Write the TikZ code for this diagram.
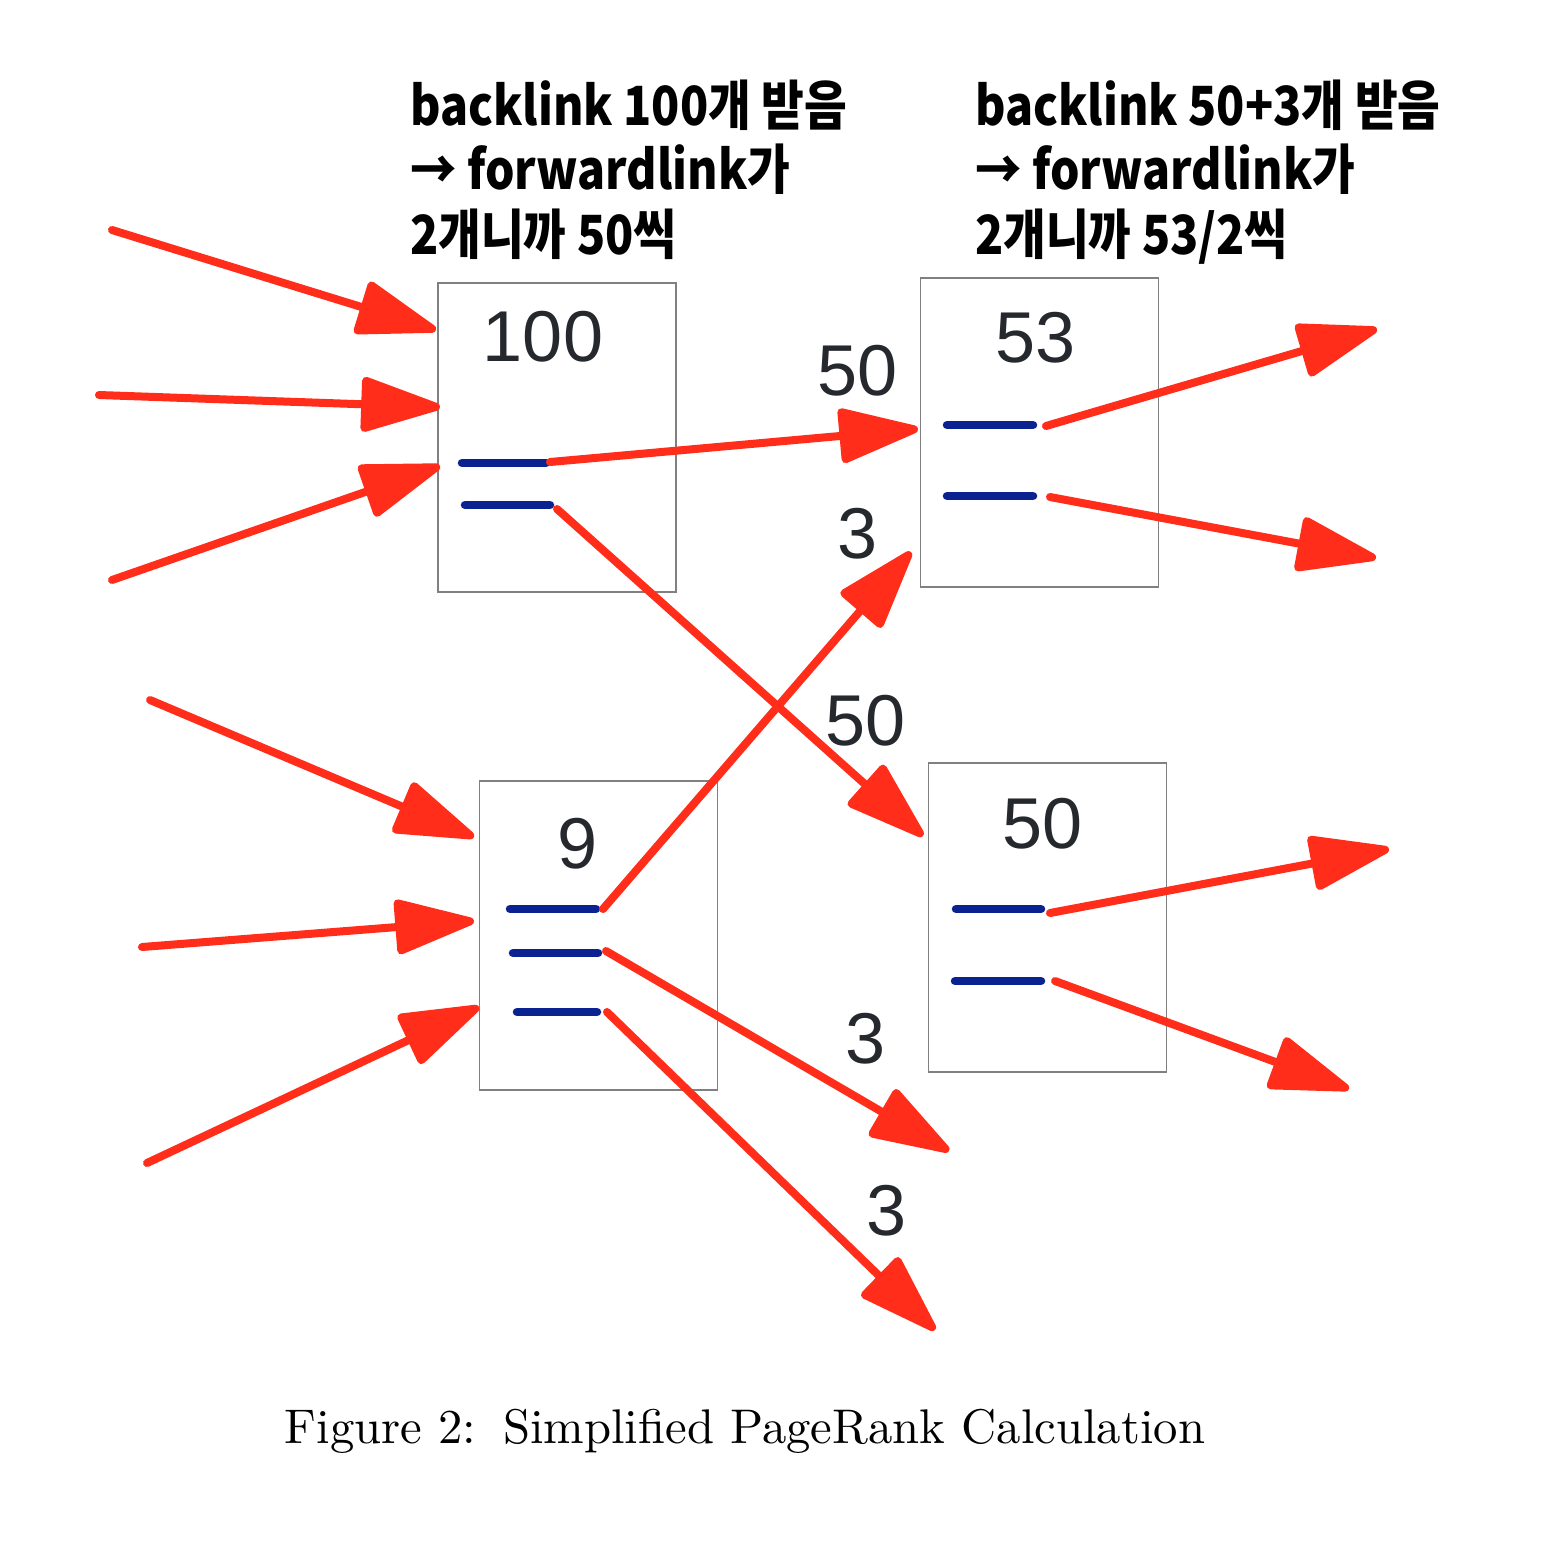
\documentclass[tikz,border=0pt]{standalone}
\usepackage{fontspec}
\newfontfamily\krfont{Noto Sans CJK KR}[FakeStretch=0.86]
\newfontfamily\numfont{Liberation Sans}
\usetikzlibrary{arrows.meta}
\definecolor{arrred}{HTML}{FF2D19}
\definecolor{linkblue}{HTML}{0A2391}
\definecolor{boxgray}{HTML}{808080}
\definecolor{numgray}{HTML}{25282D}
\tikzset{
  pagebox/.style={draw=boxgray, line width=1.6pt, minimum width=238pt, minimum height=309pt, inner sep=0pt},
  linkbar/.style={draw=linkblue, line width=8.5pt, line cap=round},
  flow/.style={draw=arrred, line width=8pt, line cap=round, -{Triangle[length=88pt,width=56pt,round]}},
  num/.style={font=\numfont\fontsize{72}{86}\selectfont, text=numgray, anchor=base, inner sep=0pt},
  note/.style={font=\krfont\bfseries\fontsize{54}{64}\selectfont, anchor=base west, inner sep=0pt},
  capt/.style={anchor=base, inner sep=0pt},
}
\begin{document}
\begin{tikzpicture}[x=1pt,y=-1pt]
\useasboundingbox (0,0) rectangle (1548,1540);
% boxes
\node[pagebox] (p100) at (557,437.5) {};
\node[pagebox] (p53) at (1039.5,432.5) {};
\node[pagebox] (p9) at (598.5,935.5) {};
\node[pagebox] (p50) at (1047.5,917.5) {};
% numbers in boxes
\node[num] (n100) at (543,361) {100};
\node[num] (n53) at (1036,362) {53};
\node[num] (n9) at (578,868) {9};
\node[num] (n50) at (1043,848) {50};
% edge labels
\node[num] (l1) at (858,395) {50};
\node[num] (l2) at (858,558) {3};
\node[num] (l3) at (866,745) {50};
\node[num] (l4) at (866,1063) {3};
\node[num] (l5) at (887,1235) {3};
% notes
\node[note] (t1a) at (410,125) {backlink 100개 받음};
\node[note] (t1b) at (410,189) {→ forwardlink가};
\node[note] (t1c) at (410,254) {2개니까 50씩};
\node[note] (t2a) at (975,125) {backlink 50+3개 받음};
\node[note] (t2b) at (975,189) {→ forwardlink가};
\node[note] (t2c) at (975,254) {2개니까 53/2씩};
% caption
\node[capt] (cap) at (745,1443) {\resizebox{920pt}{!}{\fontsize{10}{12}\selectfont Figure 2:\hspace{0.55em}Simplified PageRank Calculation}};
% bars
\coordinate (b100a1) at (462,463); \coordinate (b100a2) at (546,463);
\coordinate (b100b1) at (465,505); \coordinate (b100b2) at (550,505);
\coordinate (b53a1) at (947,425); \coordinate (b53a2) at (1033,425);
\coordinate (b53b1) at (947,496); \coordinate (b53b2) at (1033,496);
\coordinate (b9a1) at (510,909); \coordinate (b9a2) at (596,909);
\coordinate (b9b1) at (513,953); \coordinate (b9b2) at (598,953);
\coordinate (b9c1) at (517,1012); \coordinate (b9c2) at (597,1012);
\coordinate (b50a1) at (956,909); \coordinate (b50a2) at (1041,909);
\coordinate (b50b1) at (955,981); \coordinate (b50b2) at (1041,981);
\draw[linkbar] (b100a1) -- (b100a2);
\draw[linkbar] (b100b1) -- (b100b2);
\draw[linkbar] (b53a1) -- (b53a2);
\draw[linkbar] (b53b1) -- (b53b2);
\draw[linkbar] (b9a1) -- (b9a2);
\draw[linkbar] (b9b1) -- (b9b2);
\draw[linkbar] (b9c1) -- (b9c2);
\draw[linkbar] (b50a1) -- (b50a2);
\draw[linkbar] (b50b1) -- (b50b2);
% incoming free ends
\coordinate (s1) at (112,230); \coordinate (e1) at (436,330);
\coordinate (s2) at (99,395);  \coordinate (e2) at (440,407);
\coordinate (s3) at (112,580); \coordinate (e3) at (440,466);
\coordinate (s4) at (150,700); \coordinate (e4) at (474,837);
\coordinate (s5) at (142,947); \coordinate (e5) at (474,921);
\coordinate (s6) at (147,1163); \coordinate (e6) at (479,1007);
% outgoing
\coordinate (o100a) at (550,462); \coordinate (i53a) at (918,429);
\coordinate (o100b) at (557,509); \coordinate (i50) at (923,836);
\coordinate (o9a) at (603,909); \coordinate (i53b) at (911,552);
\coordinate (o9b) at (606,951); \coordinate (x1) at (949,1151);
\coordinate (o9c) at (607,1012); \coordinate (x2) at (935,1330);
\coordinate (o53a) at (1046,426); \coordinate (x3) at (1377,329);
\coordinate (o53b) at (1050,497); \coordinate (x4) at (1376,558);
\coordinate (o50a) at (1050,913); \coordinate (x5) at (1389,849);
\coordinate (o50b) at (1055,981); \coordinate (x6) at (1349,1089);
\draw[flow] (s1) -- (e1);
\draw[flow] (s2) -- (e2);
\draw[flow] (s3) -- (e3);
\draw[flow] (s4) -- (e4);
\draw[flow] (s5) -- (e5);
\draw[flow] (s6) -- (e6);
\draw[flow] (o100a) -- (i53a);
\draw[flow] (o100b) -- (i50);
\draw[flow] (o9a) -- (i53b);
\draw[flow] (o9b) -- (x1);
\draw[flow] (o9c) -- (x2);
\draw[flow] (o53a) -- (x3);
\draw[flow] (o53b) -- (x4);
\draw[flow] (o50a) -- (x5);
\draw[flow] (o50b) -- (x6);
\end{tikzpicture}
\end{document}
